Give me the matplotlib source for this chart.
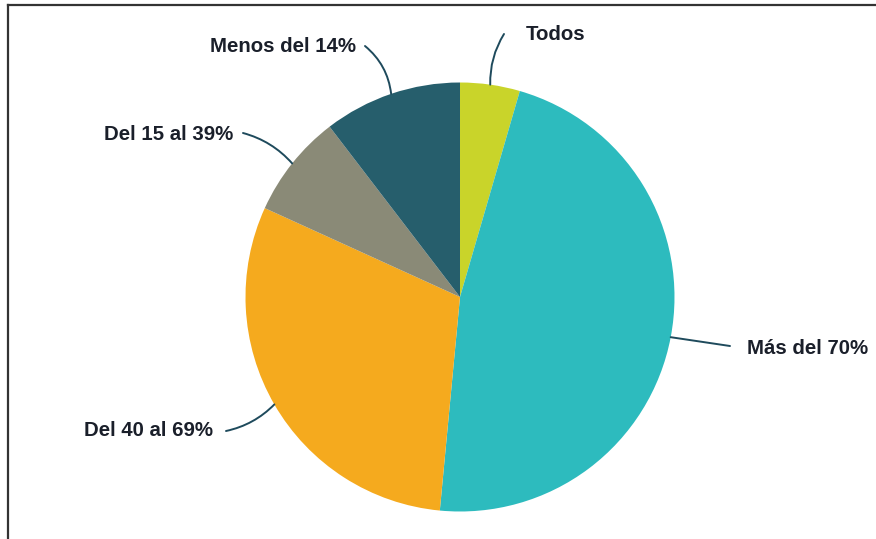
import numpy as np
import matplotlib
matplotlib.use("Agg")
import matplotlib.pyplot as plt

categories = ["Todos", "Más del 70%", "Del 40 al 69%", "Del 15 al 39%", "Menos del 14%"]
values = [4.5, 47.0, 30.3, 7.8, 10.4]
colors = ["#C9D42A", "#2DBBBE", "#F5AA1E", "#8A8A77", "#265E6C"]

# label text anchor positions (pixel coords, y measured from top) and alignment
label_pos = [(526, 35, "left"), (747, 348, "left"), (213, 430, "right"),
             (233, 134, "right"), (356, 47, "right")]
leader_end = [(504, 34), (730, 346), (226, 431), (243, 133), (365, 46)]
leader_rad = [0.15, 0.0, 0.15, -0.15, -0.2]

W, H = 876, 539
fig = plt.figure(figsize=(W / 100, H / 100), dpi=100)
ax = fig.add_axes([0, 0, 1, 1])
ax.set_xlim(0, W)
ax.set_ylim(0, H)
ax.set_aspect("equal")
ax.axis("off")

cx, cy, r = 460, H - 297, 214.5
wedges, _ = ax.pie(values, colors=colors, startangle=90, counterclock=False,
                   center=(cx, cy), radius=r, frame=True,
                   wedgeprops=dict(linewidth=0))
ax.set_xlim(0, W)
ax.set_ylim(0, H)
ax.axis("off")

for w, name, (tx, ty, ha), (lx, ly), rad in zip(wedges, categories, label_pos, leader_end, leader_rad):
    ang = np.deg2rad((w.theta1 + w.theta2) / 2)
    px, py = cx + r * np.cos(ang), cy + r * np.sin(ang)
    ax.annotate("", xy=(px, py), xytext=(lx, H - ly),
                arrowprops=dict(arrowstyle="-", color="#1E4A5C", lw=1.4,
                                connectionstyle=f"arc3,rad={rad}",
                                shrinkA=0, shrinkB=0))
    ax.text(tx, H - ty, name, ha=ha, va="center", fontsize=14.7,
            fontweight="bold", family="Liberation Sans", color="#1A1F2A")

# partial frame (top and left edges)
ax.plot([7.5, W], [H - 5, H - 5], color="#333333", lw=1.6, clip_on=False)
ax.plot([7.5, 7.5], [0, H - 5], color="#333333", lw=1.6, clip_on=False)

fig.savefig("out.png", dpi=100, facecolor="white")
